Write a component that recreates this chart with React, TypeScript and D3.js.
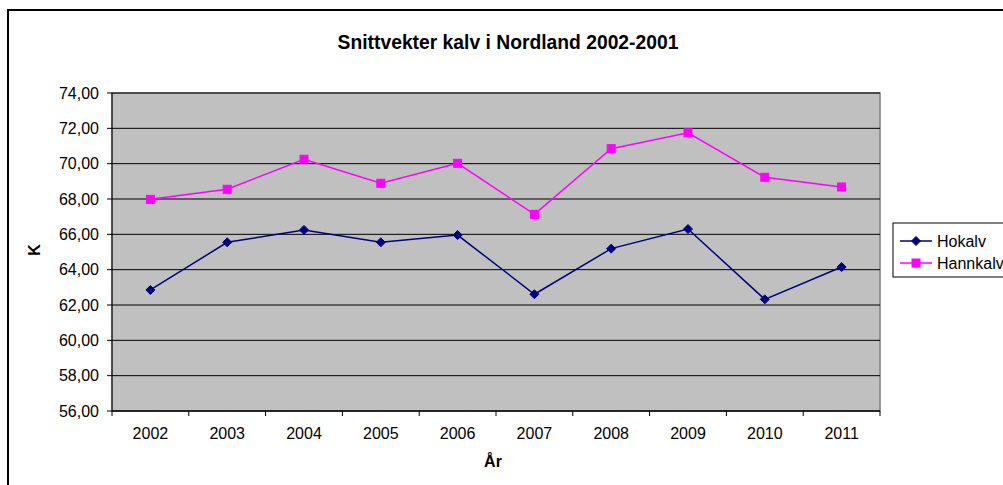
import React from "react";
import * as d3 from "d3";

const years = ["2002", "2003", "2004", "2005", "2006", "2007", "2008", "2009", "2010", "2011"];
const hokalv = [62.85, 65.55, 66.25, 65.55, 65.96, 62.61, 65.19, 66.3, 62.32, 64.15];
const hannkalv = [67.98, 68.55, 70.25, 68.89, 70.02, 67.13, 70.85, 71.75, 69.23, 68.68];
const yTicks = [56, 58, 60, 62, 64, 66, 68, 70, 72, 74];
const seriesNames = ["Hokalv", "Hannkalv"];

const W = 1003;
const H = 485;
const left = 112, right = 880, top = 93, bottom = 411;
const FONT = "'Liberation Sans', Arial, sans-serif";

export default function App() {
  const x = d3.scaleBand<string>().domain(years).range([left, right]).padding(0);
  const y = d3.scaleLinear().domain([56, 74]).range([bottom, top]);
  const cx = (d: string) => (x(d) as number) + x.bandwidth() / 2;
  const line = d3.line<number>().x((_, i) => cx(years[i])).y((v) => y(v));
  const fmt = (v: number) => v.toFixed(2).replace(".", ",");
  const diamond = (px: number, py: number, r = 4.5) =>
    `M${px},${py - r}L${px + r},${py}L${px},${py + r}L${px - r},${py}Z`;

  const boundaries = years.map((d) => x(d) as number).concat([right]);

  return (
    <svg width={W} height={H} style={{ position: "absolute", left: 0, top: 0, background: "#fff" }} fontFamily={FONT}>
      {/* outer frame */}
      <rect x={8} y={10} width={1100} height={600} fill="#fff" stroke="#000" strokeWidth={2} />
      {/* title */}
      <text x={508} y={49} textAnchor="middle" fontSize={19.3} fontWeight="bold" fill="#000">
        Snittvekter kalv i Nordland 2002-2001
      </text>
      {/* plot area */}
      <rect x={left} y={top} width={right - left} height={bottom - top} fill="#C0C0C0" stroke="#808080" strokeWidth={1.5} />
      {yTicks.map((t) => (
        <line key={"g" + t} x1={left} x2={right} y1={y(t)} y2={y(t)} stroke="#000" strokeWidth={1} />
      ))}
      {/* axes */}
      <line x1={left} x2={left} y1={top} y2={bottom} stroke="#000" strokeWidth={1} />
      <line x1={left} x2={right} y1={bottom} y2={bottom} stroke="#000" strokeWidth={1} />
      {yTicks.map((t) => (
        <g key={"yt" + t}>
          <line x1={left - 5} x2={left} y1={y(t)} y2={y(t)} stroke="#000" />
          <text x={99} y={y(t) + 5.5} textAnchor="end" fontSize={16} fill="#000">
            {fmt(t)}
          </text>
        </g>
      ))}
      {boundaries.map((b, i) => (
        <line key={"xt" + i} x1={b} x2={b} y1={bottom} y2={bottom + 5} stroke="#000" />
      ))}
      {years.map((d) => (
        <text key={"xl" + d} x={cx(d)} y={439} textAnchor="middle" fontSize={16} fill="#000">
          {d}
        </text>
      ))}
      {/* axis titles */}
      <text x={0} y={0} transform="translate(40,250) rotate(-90)" textAnchor="middle" fontSize={16} fontWeight="bold" fill="#000">
        K
      </text>
      <text x={493} y={467} textAnchor="middle" fontSize={16} fontWeight="bold" fill="#000">
        År
      </text>
      {/* series */}
      <path d={line(hokalv) || ""} fill="none" stroke="#000080" strokeWidth={1.5} />
      <path d={line(hannkalv) || ""} fill="none" stroke="#FF00FF" strokeWidth={1.5} />
      {hokalv.map((v, i) => (
        <path key={"hm" + i} d={diamond(cx(years[i]), y(v))} fill="#000080" stroke="#000080" />
      ))}
      {hannkalv.map((v, i) => (
        <rect key={"nm" + i} x={cx(years[i]) - 4} y={y(v) - 4} width={8} height={8} fill="#FF00FF" stroke="#FF00FF" />
      ))}
      {/* legend */}
      <rect x={893} y={223} width={130} height={54} fill="#fff" stroke="#000" strokeWidth={1} />
      {seriesNames.map((s, i) => {
        const ly = 241 + i * 22;
        const col = i === 0 ? "#000080" : "#FF00FF";
        return (
          <g key={"lg" + s}>
            <line x1={900} x2={932} y1={ly} y2={ly} stroke={col} strokeWidth={1.5} />
            {i === 0 ? (
              <path d={diamond(916, ly)} fill={col} stroke={col} />
            ) : (
              <rect x={912} y={ly - 4} width={8} height={8} fill={col} stroke={col} />
            )}
            <text x={937} y={ly + 5.5} fontSize={16} fill="#000">
              {s}
            </text>
          </g>
        );
      })}
    </svg>
  );
}
